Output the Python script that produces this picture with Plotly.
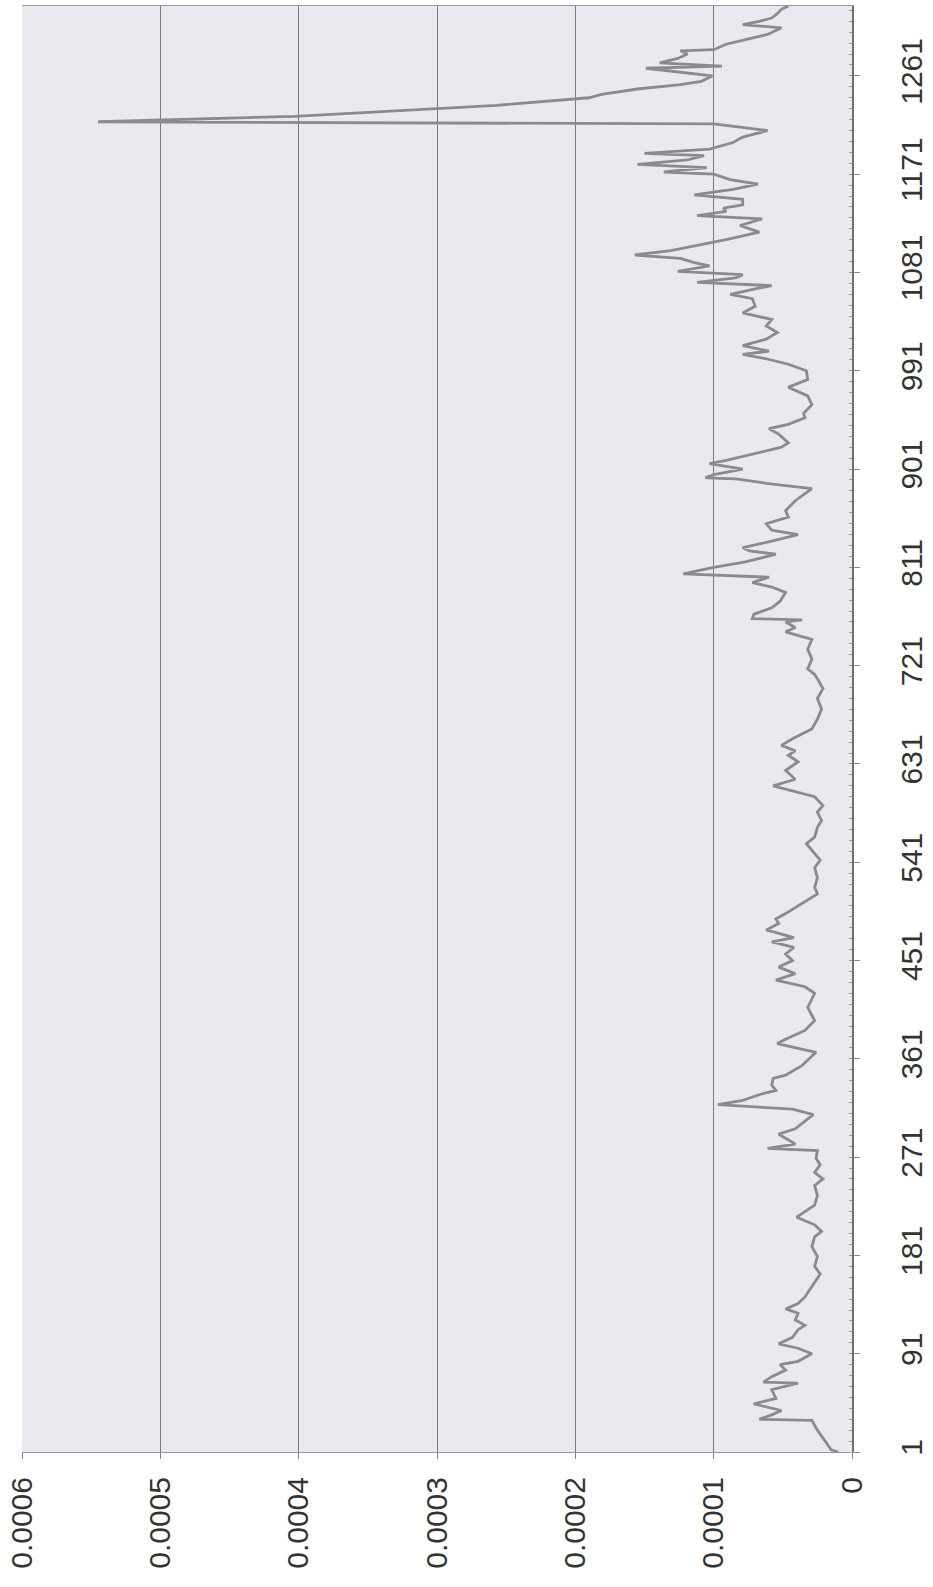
import plotly.graph_objects as go

# Series: observation index and measured value
categories = [
    1, 3, 21, 30, 31, 35, 39, 45, 50, 58, 64, 65, 70, 76, 81, 84, 91, 96, 100, 106,
    113, 117, 122, 128, 132, 137, 143, 152, 164, 171, 180, 189, 198, 203, 209, 216, 221, 227, 236, 245,
    251, 257, 264, 270, 277, 279, 283, 292, 297, 310, 315, 319, 323, 329, 332, 337, 343, 346, 355, 367,
    375, 379, 387, 396, 408, 421, 427, 433, 439, 445, 451, 457, 463, 468, 472, 479, 485, 489, 494, 503,
    512, 518, 527, 536, 543, 552, 558, 564, 573, 579, 587, 593, 601, 608, 611, 617, 625, 633, 639, 643,
    648, 654, 663, 672, 681, 691, 700, 709, 713, 718, 727, 736, 745, 752, 756, 761, 763, 764, 768, 774,
    780, 788, 793, 797, 802, 805, 811, 816, 823, 826, 829, 835, 841, 845, 851, 857, 863, 872, 878, 883,
    888, 892, 893, 896, 901, 906, 909, 915, 921, 925, 933, 938, 942, 948, 952, 960, 968, 976, 983, 991,
    997, 1002, 1006, 1009, 1014, 1020, 1026, 1032, 1038, 1044, 1050, 1057, 1061, 1066, 1069, 1072, 1076, 1079, 1082, 1087,
    1090, 1094, 1097, 1101, 1105, 1111, 1118, 1124, 1130, 1133, 1137, 1140, 1143, 1148, 1152, 1157, 1162, 1166, 1171, 1173,
    1177, 1180, 1184, 1188, 1190, 1194, 1200, 1205, 1211, 1215, 1217, 1219, 1224, 1234, 1241, 1244, 1249, 1253, 1256, 1261,
    1264, 1268, 1270, 1273, 1277, 1281, 1284, 1285, 1290, 1294, 1299, 1305, 1308, 1311, 1314, 1318, 1322, 1325,
]

values = [
    1.0e-5, 1.5e-5, 2.5e-5, 2.9e-5, 6.7e-5, 5.8e-5, 5.1e-5, 7.1e-5, 5.5e-5, 5.8e-5,
    3.9e-5, 6.4e-5, 5.8e-5, 4.8e-5, 5.2e-5, 3.9e-5, 2.9e-5, 3.9e-5, 5.3e-5, 4.3e-5,
    3.9e-5, 3.4e-5, 4.1e-5, 3.9e-5, 4.8e-5, 3.9e-5, 3.4e-5, 2.9e-5, 2.3e-5, 2.7e-5,
    2.5e-5, 2.9e-5, 2.7e-5, 2.2e-5, 2.7e-5, 4.0e-5, 3.4e-5, 2.7e-5, 2.5e-5, 2.7e-5,
    2.1e-5, 2.7e-5, 2.3e-5, 2.6e-5, 2.5e-5, 6.1e-5, 4.1e-5, 5.3e-5, 4.1e-5, 2.8e-5,
    4.3e-5, 9.7e-5, 7.9e-5, 6.5e-5, 5.5e-5, 5.8e-5, 5.7e-5, 4.8e-5, 3.6e-5, 2.6e-5,
    5.4e-5, 4.8e-5, 3.4e-5, 2.7e-5, 3.2e-5, 2.7e-5, 3.4e-5, 5.5e-5, 4.1e-5, 5.3e-5,
    4.3e-5, 4.8e-5, 4.2e-5, 5.8e-5, 4.2e-5, 6.2e-5, 5.3e-5, 5.5e-5, 4.8e-5, 3.6e-5,
    2.5e-5, 2.7e-5, 2.5e-5, 2.7e-5, 2.3e-5, 2.9e-5, 3.3e-5, 2.7e-5, 2.5e-5, 2.2e-5,
    2.5e-5, 2.1e-5, 2.7e-5, 4.8e-5, 5.7e-5, 4.1e-5, 4.8e-5, 3.9e-5, 4.6e-5, 4.1e-5,
    5.1e-5, 4.3e-5, 2.9e-5, 2.5e-5, 2.2e-5, 2.5e-5, 2.1e-5, 2.5e-5, 2.7e-5, 3.2e-5,
    2.9e-5, 3.2e-5, 2.9e-5, 4.8e-5, 4.1e-5, 4.8e-5, 3.6e-5, 7.2e-5, 7.1e-5, 5.8e-5,
    5.2e-5, 4.8e-5, 5.8e-5, 7.2e-5, 6.0e-5, 1.22e-4, 1.00e-4, 7.7e-5, 5.5e-5, 7.4e-5,
    7.9e-5, 5.8e-5, 3.9e-5, 5.8e-5, 6.2e-5, 4.6e-5, 4.8e-5, 4.1e-5, 3.4e-5, 2.9e-5,
    6.2e-5, 8.4e-5, 1.06e-4, 1.00e-4, 7.9e-5, 1.03e-4, 9.1e-5, 7.0e-5, 5.1e-5, 4.6e-5,
    5.3e-5, 6.0e-5, 4.6e-5, 3.4e-5, 3.5e-5, 2.9e-5, 3.2e-5, 4.6e-5, 3.2e-5, 3.3e-5,
    4.6e-5, 6.2e-5, 7.9e-5, 6.0e-5, 7.9e-5, 6.2e-5, 5.4e-5, 6.2e-5, 5.8e-5, 7.9e-5,
    7.0e-5, 7.2e-5, 8.8e-5, 7.0e-5, 5.8e-5, 1.12e-4, 8.4e-5, 7.9e-5, 1.26e-4, 1.03e-4,
    1.14e-4, 1.24e-4, 1.57e-4, 1.31e-4, 1.14e-4, 9.1e-5, 6.7e-5, 8.1e-5, 6.5e-5, 1.12e-4,
    9.1e-5, 9.3e-5, 7.9e-5, 7.9e-5, 1.14e-4, 8.6e-5, 6.8e-5, 8.8e-5, 1.00e-4, 1.36e-4,
    1.05e-4, 1.55e-4, 1.19e-4, 1.07e-4, 1.50e-4, 1.03e-4, 8.6e-5, 7.9e-5, 6.1e-5, 8.8e-5,
    1.00e-4, 5.45e-4, 4.03e-4, 2.57e-4, 1.90e-4, 1.81e-4, 1.55e-4, 1.24e-4, 1.09e-4, 1.01e-4,
    1.22e-4, 1.49e-4, 9.4e-5, 1.39e-4, 1.26e-4, 1.19e-4, 1.24e-4, 1.00e-4, 9.1e-5, 7.7e-5,
    6.1e-5, 5.1e-5, 7.9e-5, 6.7e-5, 5.8e-5, 5.4e-5, 5.1e-5, 4.6e-5,
]

value_ticks = [0, 0.0001, 0.0002, 0.0003, 0.0004, 0.0005, 0.0006]
value_tick_labels = ["0", "0.0001", "0.0002", "0.0003", "0.0004", "0.0005", "0.0006"]

category_ticks = [1, 91, 181, 271, 361, 451, 541, 631, 721, 811, 901, 991, 1081, 1171, 1261]
category_tick_labels = ["1", "91", "181", "271", "361", "451", "541", "631", "721",
                        "811", "901", "991", "1081", "1171", "1261"]

fig = go.Figure(
    go.Scatter(
        x=values,
        y=categories,
        mode="lines",
        line=dict(color="#8b8b8b", width=2.8),
        hoverinfo="x+y",
    )
)

fig.update_layout(
    width=933,
    height=1587,
    margin=dict(l=22, r=65, t=5, b=135),
    paper_bgcolor="white",
    plot_bgcolor="#e9eaef",
    showlegend=False,
    font=dict(family="Liberation Sans, Arial, sans-serif", size=30, color="#333333"),
)

# Value axis runs right-to-left along the bottom, labels turned upright
fig.update_xaxes(
    range=[0.0006, 0],
    tickvals=value_ticks,
    ticktext=value_tick_labels,
    tickangle=-90,
    showgrid=True,
    gridcolor="#7a7a7a",
    gridwidth=1,
    zeroline=False,
    showline=True,
    linecolor="#9a9a9a",
    linewidth=1,
    mirror=True,
    ticks="outside",
    ticklen=6,
    tickcolor="#888888",
    ticklabelstandoff=6,
)

# Observation index along the right edge
fig.update_yaxes(
    range=[1, 1325],
    side="right",
    tickvals=category_ticks,
    ticktext=category_tick_labels,
    tickangle=-90,
    showgrid=False,
    zeroline=False,
    showline=True,
    linecolor="#6f6f6f",
    linewidth=1.5,
    ticks="outside",
    ticklen=6,
    tickcolor="#888888",
    minor=dict(tick0=1, dtick=10, ticks="inside", ticklen=3, tickcolor="#9a9a9a"),
    ticklabelstandoff=26,
)

fig.write_html("out.html")
